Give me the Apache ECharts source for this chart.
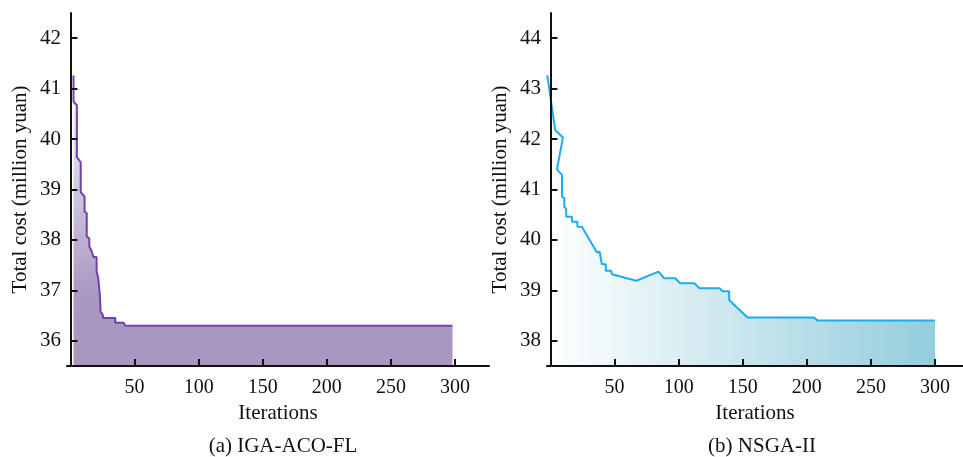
<!DOCTYPE html>
<html>
<head>
<meta charset="utf-8">
<script src="https://cdn.jsdelivr.net/npm/echarts@6/dist/echarts.min.js"></script>
<style>
html,body{margin:0;padding:0;background:#fff;}
#chart{width:963px;height:457px;}
</style>
</head>
<body>
<div id="chart"></div>
<script>
// (a) IGA-ACO-FL convergence, [iteration, total cost]
var igaData = [
	[2.4, 41.26], [2.4, 40.74], [5, 40.67], [5, 39.64], [8, 39.54], [8, 38.95],
	[11, 38.86], [11, 38.56], [12.7, 38.53], [12.7, 38.07], [14.7, 38.03], [14.7, 37.87],
	[16.6, 37.77], [18, 37.66], [20.4, 37.66], [20.4, 37.37], [21.7, 37.24], [23, 36.88],
	[23.5, 36.58], [25.3, 36.51], [25.3, 36.45], [35, 36.45], [35, 36.36], [41.5, 36.36],
	[42.8, 36.30], [298, 36.30]
];
// (b) NSGA-II convergence
var nsgaData = [
	[-2.5, 43.27], [3.7, 42.18], [9.7, 42.03], [5.1, 41.40], [9.0, 41.29], [9.0, 40.86],
	[10.8, 40.83], [10.8, 40.66], [12.3, 40.61], [12.3, 40.46], [16.8, 40.46], [16.8, 40.36],
	[21, 40.36], [21, 40.26], [24.5, 40.26], [36.3, 39.75], [38.3, 39.77], [40.1, 39.52],
	[43.2, 39.52], [43.2, 39.39], [47.2, 39.39], [48, 39.32], [66.9, 39.19], [84.3, 39.37],
	[88.7, 39.24], [97.3, 39.24], [101.2, 39.14], [112.3, 39.14], [116.3, 39.04], [131.8, 39.04],
	[134.5, 38.98], [139.4, 38.98], [139.4, 38.81], [153.7, 38.46], [205.7, 38.46], [208.5, 38.40],
	[300, 38.40]
];
var xTicks = [50, 100, 150, 200, 250, 300];
var yTicksA = [36, 37, 38, 39, 40, 41, 42];
var yTicksB = [38, 39, 40, 41, 42, 43, 44];
var titles = ['(a) IGA-ACO-FL', '(b) NSGA-II'];

var font = "'Liberation Serif', 'Times New Roman', serif";

function xAxisOf(idx, max) {
	return {
		type: 'value', gridIndex: idx, min: -2.7, max: max, z: 10,
		name: 'Iterations', nameLocation: 'middle', nameGap: 36,
		nameTextStyle: { fontFamily: font, fontSize: 21, color: '#111' },
		axisLine: { lineStyle: { color: '#111', width: 2 } },
		axisTick: { inside: true, length: 7, customValues: xTicks, lineStyle: { color: '#111', width: 2 } },
		axisLabel: { customValues: xTicks, margin: 12, fontFamily: font, fontSize: 20, color: '#111' },
		splitLine: { show: false }
	};
}
function yAxisOf(idx, min, max, ticks) {
	return {
		type: 'value', gridIndex: idx, min: min, max: max, z: 10,
		name: 'Total cost (million yuan)', nameLocation: 'middle', nameGap: 36,
		nameTextStyle: { fontFamily: font, fontSize: 21, color: '#111' },
		axisLine: { show: true, lineStyle: { color: '#111', width: 2 } },
		axisTick: { show: true, inside: true, length: 7, customValues: ticks, lineStyle: { color: '#111', width: 2 } },
		axisLabel: { customValues: ticks, margin: 6, fontFamily: font, fontSize: 21, color: '#111' },
		splitLine: { show: false }
	};
}

var myChart = echarts.init(document.getElementById('chart'));
var option = {
	animation: false,
	backgroundColor: '#fff',
	title: [
		{ text: titles[0], left: 278, top: 431, textAlign: 'center',
			textStyle: { fontFamily: font, fontSize: 21, fontWeight: 'normal', color: '#111' } },
		{ text: titles[1], left: 757, top: 431, textAlign: 'center',
			textStyle: { fontFamily: font, fontSize: 21, fontWeight: 'normal', color: '#111' } }
	],
	grid: [
		{ left: 67, top: 13, width: 422, bottom: 91 },
		{ left: 547, top: 13, right: 0, bottom: 91 }
	],
	xAxis: [xAxisOf(0, 326.5), xAxisOf(1, 321.8)],
	yAxis: [yAxisOf(0, 35.5, 42.5, yTicksA), yAxisOf(1, 37.5, 44.5, yTicksB)],
	series: [
		{
			type: 'line', xAxisIndex: 0, yAxisIndex: 0, data: igaData, z: 1,
			symbol: 'none', lineStyle: { color: '#7040b0', width: 2 },
			areaStyle: {
				opacity: 1,
				color: new echarts.graphic.LinearGradient(0, 0, 0, 1, [
					{ offset: 0, color: '#fbfafd' },
					{ offset: 0.75, color: '#a999c2' },
					{ offset: 1, color: '#a797bf' }
				])
			}
		},
		{
			type: 'line', xAxisIndex: 1, yAxisIndex: 1, data: nsgaData, z: 1,
			symbol: 'none', lineStyle: { color: '#1aaeea', width: 2 },
			areaStyle: {
				opacity: 1,
				color: new echarts.graphic.LinearGradient(0, 0, 1, 0, [
					{ offset: 0, color: '#ffffff' },
					{ offset: 1, color: '#93cddc' }
				])
			}
		}
	]
};
myChart.setOption(option);
</script>
</body>
</html>
